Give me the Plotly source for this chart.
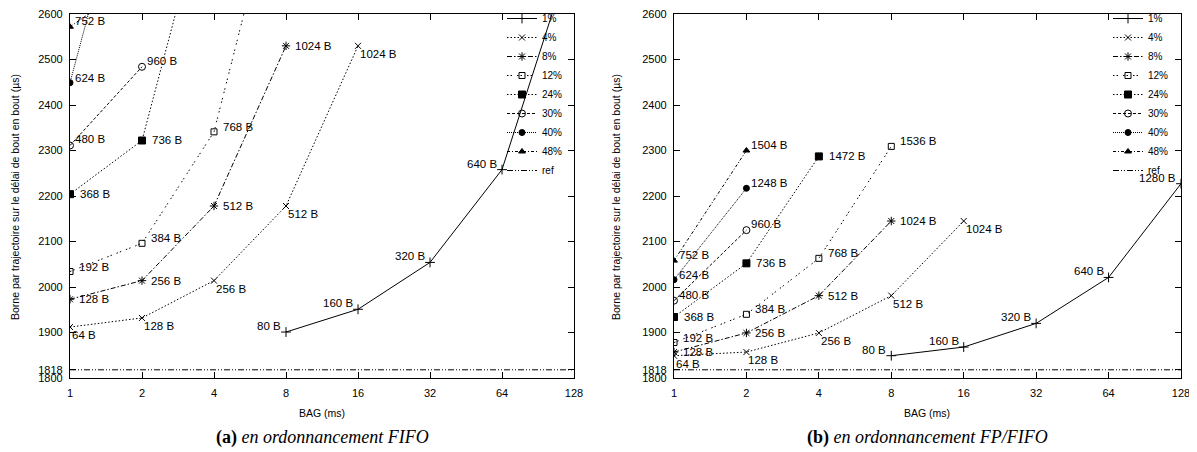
import math
import plotly.graph_objects as go

# ---------------- data ----------------
BAG_TICKS = [1, 2, 4, 8, 16, 32, 64, 128]
BAG_TICK_TEXT = ["1", "2", "4", "8", "16", "32", "64", "128"]
Y_TICKS = [1800, 1818, 1900, 2000, 2100, 2200, 2300, 2400, 2500, 2600]
REF_VALUE = 1818
SERIES = ["1%", "4%", "8%", "12%", "24%", "30%", "40%", "48%"]

# payload labels per series
lab_1 = ["80 B", "160 B", "320 B", "640 B", "1280 B"]
lab_4 = ["64 B", "128 B", "256 B", "512 B", "1024 B"]
lab_8 = ["128 B", "256 B", "512 B", "1024 B"]
lab_12 = ["192 B", "384 B", "768 B", "1536 B"]
lab_24 = ["368 B", "736 B", "1472 B"]
lab_30 = ["480 B", "960 B"]
lab_40 = ["624 B", "1248 B"]
lab_48 = ["752 B", "1504 B"]

# BAG (ms) per series
bag_1 = [8, 16, 32, 64, 128]
bag_4 = [1, 2, 4, 8, 16]
bag_8 = [1, 2, 4, 8]
bag_12 = [1, 2, 4, 8]
bag_24 = [1, 2, 4]
bag_30 = [1, 2]
bag_40 = [1, 2]
bag_48 = [1, 2]

# (a) FIFO scheduling - bound (us)
fifo_1 = [1901, 1951, 2054, 2258, 2750]
fifo_4 = [1912, 1932, 2014, 2178, 2530]
fifo_8 = [1973, 2014, 2178, 2530]
fifo_12 = [2034, 2096, 2341, 2965]
fifo_24 = [2204, 2322, 2920]
fifo_30 = [2311, 2484]
fifo_40 = [2449, 3040]
fifo_48 = [2572, 2680]

# (b) FP/FIFO scheduling - bound (us)
fp_1 = [1849, 1868, 1920, 2021, 2227]
fp_4 = [1849, 1857, 1899, 1981, 2145]
fp_8 = [1857, 1899, 1981, 2145]
fp_12 = [1878, 1940, 2063, 2309]
fp_24 = [1934, 2052, 2287]
fp_30 = [1970, 2125]
fp_40 = [2016, 2217]
fp_48 = [2058, 2300]

# ---------------- styles ----------------
STYLE = {
    "1%": dict(dash="solid", symbol="cross-thin", size=7),
    "4%": dict(dash="1.5px,2px", symbol="x-thin", size=6),
    "8%": dict(dash="5px,2px,1.5px,2px", symbol="asterisk", size=7),
    "12%": dict(dash="1.5px,2px,1.5px,5px", symbol="square-open", size=6),
    "24%": dict(dash="1.5px,2px", symbol="square", size=7),
    "30%": dict(dash="3px,2px", symbol="circle-open", size=7),
    "40%": dict(dash="1px,1px", symbol="circle", size=6),
    "48%": dict(dash="3px,2px,1px,2px", symbol="triangle-up", size=6),
}
LABEL_POS = {  # (xanchor, xshift, yshift)
    "1%": ("right", -3, 6),
    "4%": ("left", 0, -8),
    "8%": ("left", 7, 0),
    "12%": ("left", 7, 5),
    "24%": ("left", 8, 0),
    "30%": ("left", 3, 6),
    "40%": ("left", 3, 5),
    "48%": ("left", 3, 6),
}

FONT = "Liberation Sans, Arial, sans-serif"
SERIF = "Liberation Serif, DejaVu Serif, serif"
Y_MIN, Y_MAX = 1800, 2600

# the page body has an 8px margin: the figure is sized/placed to compensate
OFF = 8
W, H = 1197 - OFF, 452 - OFF


def px(sx):
    return (sx - OFF) / W


def py(sy):
    return (H - (sy - OFF)) / H


bags = [bag_1, bag_4, bag_8, bag_12, bag_24, bag_30, bag_40, bag_48]
labels = [lab_1, lab_4, lab_8, lab_12, lab_24, lab_30, lab_40, lab_48]
panels = [
    ("x", "y", "legend", [fifo_1, fifo_4, fifo_8, fifo_12, fifo_24, fifo_30, fifo_40, fifo_48]),
    ("x2", "y2", "legend2", [fp_1, fp_4, fp_8, fp_12, fp_24, fp_30, fp_40, fp_48]),
]

fig = go.Figure()
annotations = []
for xa, ya, leg, values in panels:
    for name, xs, ys, labs in zip(SERIES, bags, values, labels):
        st = STYLE[name]
        fig.add_trace(go.Scatter(
            x=xs, y=ys, name=name, mode="lines+markers",
            xaxis=xa, yaxis=ya, legend=leg,
            line=dict(color="black", width=1, dash=st["dash"]),
            marker=dict(symbol=st["symbol"], size=st["size"], color="black",
                        line=dict(color="black", width=1)),
            cliponaxis=True,
        ))
        anchor, xs_, ys_ = LABEL_POS[name]
        for bx, by, lb in zip(xs, ys, labs):
            if Y_MIN <= by <= Y_MAX:
                annotations.append(dict(
                    x=math.log10(bx), y=by, xref=xa, yref=ya, text=lb,
                    showarrow=False, xanchor=anchor, yanchor="middle",
                    xshift=xs_, yshift=ys_,
                    font=dict(family=FONT, size=11.5, color="black"),
                ))
    fig.add_trace(go.Scatter(
        x=[BAG_TICKS[0], BAG_TICKS[-1]], y=[REF_VALUE, REF_VALUE], name="ref",
        mode="lines", xaxis=xa, yaxis=ya, legend=leg,
        line=dict(color="black", width=1, dash="6px,2px,1px,2px,1px,2px"),
    ))

XD1 = [px(70), px(574)]
XD2 = [px(674), px(1181)]
YD = [py(378), py(14)]


def xaxis(domain, anchor):
    return dict(
        domain=domain, anchor=anchor, type="log", automargin=False,
        range=[0, math.log10(128)],
        tickvals=BAG_TICKS, ticktext=BAG_TICK_TEXT,
        ticks="inside", ticklen=6, tickcolor="black", tickwidth=1,
        showline=True, linecolor="black", linewidth=1.2, mirror="ticks",
        showgrid=False, zeroline=False, ticklabeloverflow="allow",
        tickfont=dict(family=FONT, size=11, color="black"),
        ticklabelstandoff=5,
    )


def yaxis(anchor):
    return dict(
        domain=YD, anchor=anchor, range=[Y_MIN, Y_MAX], automargin=False,
        tickvals=Y_TICKS, ticktext=[str(v) for v in Y_TICKS],
        ticks="inside", ticklen=6, tickcolor="black", tickwidth=1,
        showline=True, linecolor="black", linewidth=1.2, mirror="ticks",
        showgrid=False, zeroline=False, ticklabeloverflow="allow",
        tickfont=dict(family=FONT, size=11, color="black"),
        ticklabelstandoff=4,
    )


def legend(xr):
    return dict(
        x=xr, xanchor="right", y=py(4), yanchor="top",
        bgcolor="rgba(0,0,0,0)", borderwidth=0,
        font=dict(family=FONT, size=10, color="black"),
        itemwidth=30, tracegroupgap=0,
    )


for dom, cap, ytx in [
    (XD1, "<b>(a)</b> <i>en ordonnancement FIFO</i>", 15),
    (XD2, "<b>(b)</b> <i>en ordonnancement FP/FIFO</i>", 616),
]:
    cx = (dom[0] + dom[1]) / 2
    annotations.append(dict(
        x=cx, y=py(437), xref="paper", yref="paper", text=cap,
        showarrow=False, xanchor="center", yanchor="middle",
        font=dict(family=SERIF, size=18, color="black"),
    ))
    annotations.append(dict(
        x=cx, y=py(413), xref="paper", yref="paper", text="BAG (ms)",
        showarrow=False, xanchor="center", yanchor="middle",
        font=dict(family=FONT, size=10.5, color="black"),
    ))
    annotations.append(dict(
        x=px(ytx), y=py(197), xref="paper", yref="paper",
        text="Borne par trajectoire sur le délai de bout en bout (µs)",
        showarrow=False, xanchor="center", yanchor="middle", textangle=-90,
        font=dict(family=FONT, size=10.5, color="black"),
    ))

fig.update_layout(
    width=W, height=H,
    margin=dict(l=0, r=0, t=0, b=0, autoexpand=False),
    paper_bgcolor="white", plot_bgcolor="white",
    xaxis=xaxis(XD1, "y"), yaxis=yaxis("x"),
    xaxis2=xaxis(XD2, "y2"), yaxis2=yaxis("x2"),
    legend=legend(px(568)), legend2=legend(px(1174)),
    annotations=annotations,
    font=dict(family=FONT, color="black"),
)

fig.write_html("out.html")
